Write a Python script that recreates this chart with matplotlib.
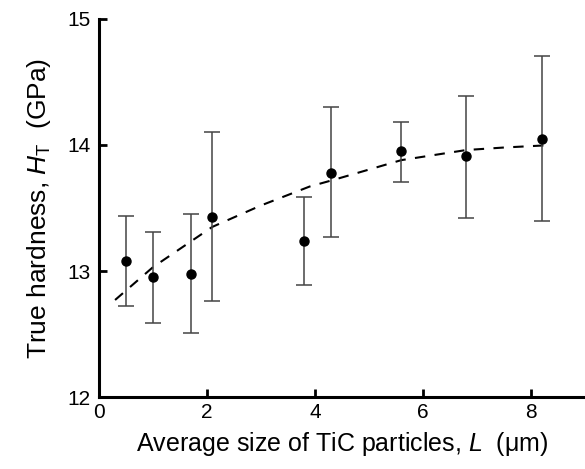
import numpy as np
import matplotlib.pyplot as plt

plt.rcParams['font.family'] = ['Liberation Sans', 'DejaVu Sans']
plt.rcParams['mathtext.fontset'] = 'custom'
plt.rcParams['mathtext.it'] = 'Liberation Sans:italic'
plt.rcParams['mathtext.rm'] = 'Liberation Sans'

# measured hardness vs. TiC particle size
size_um = [0.5, 1.0, 1.7, 2.1, 3.8, 4.3, 5.6, 6.8, 8.2]
hardness = [13.08, 12.95, 12.98, 13.43, 13.24, 13.78, 13.95, 13.91, 14.05]
err_hi = [13.44, 13.31, 13.45, 14.10, 13.59, 14.30, 14.18, 14.39, 14.71]
err_lo = [12.72, 12.59, 12.51, 12.76, 12.89, 13.27, 13.71, 13.42, 13.40]

# trend curve
fit_x = [0.3, 1.0, 2.1, 3.0, 3.9, 4.4, 5.6, 6.8, 7.5, 8.4]
fit_y = [12.77, 13.03, 13.35, 13.52, 13.67, 13.73, 13.88, 13.96, 13.98, 14.0]

h = np.array(hardness)
yerr = [h - np.array(err_lo), np.array(err_hi) - h]

fig = plt.figure(figsize=(5.85, 4.69), dpi=100)
ax = fig.add_axes([0.169, 0.1535, 0.831, 0.806])

ax.plot(fit_x, fit_y, color='black', lw=1.5, ls=(0, (5, 4.5)))
ax.errorbar(size_um, hardness, yerr=yerr, fmt='o', color='black',
            ecolor='#444444', elinewidth=1.1, capsize=6, capthick=1.1,
            markersize=6.5)

ax.set_xlim(0, 9)
ax.set_ylim(12, 15)
ax.set_xticks([0, 2, 4, 6, 8])
ax.set_yticks([12, 13, 14, 15])

for s in ['top', 'right']:
    ax.spines[s].set_visible(False)
for s in ['left', 'bottom']:
    ax.spines[s].set_linewidth(2.2)

ax.tick_params(direction='in', length=6, width=2, labelsize=15, pad=6)
ax.tick_params(axis='x', pad=4)

ax.set_xlabel(r'Average size of TiC particles, $L$  ($\mathrm{\mu}$m)',
              fontsize=18, labelpad=6)
ax.set_ylabel(r'True hardness, $H_{\mathrm{T}}$  (GPa)', fontsize=19,
              labelpad=10)

fig.savefig('out.png', dpi=100)
